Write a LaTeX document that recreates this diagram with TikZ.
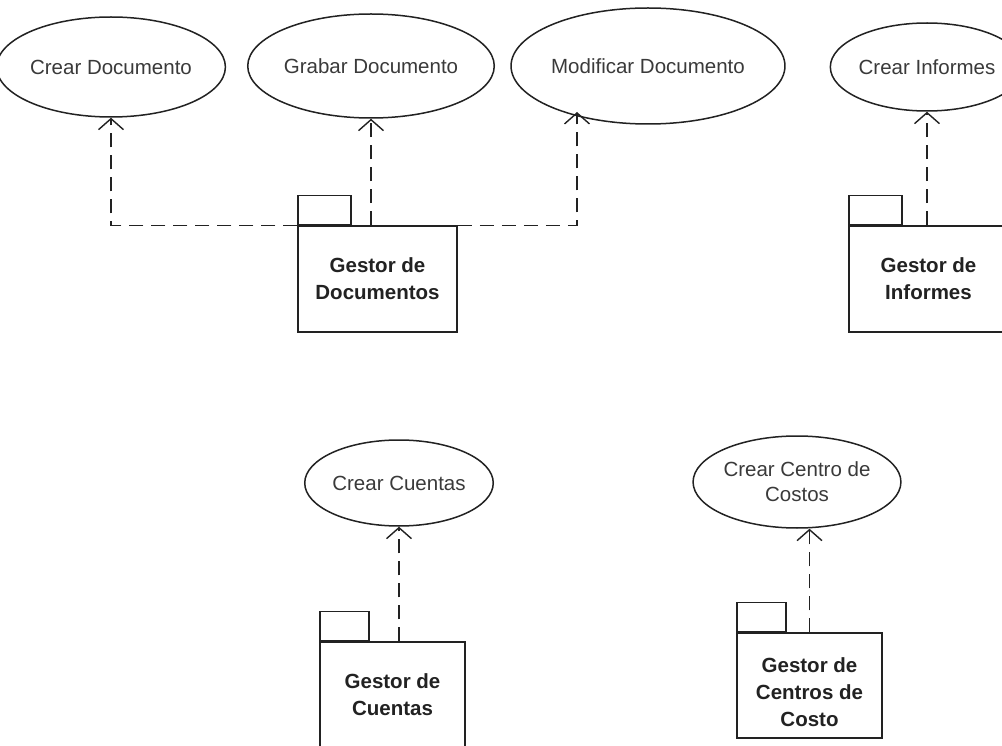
\documentclass[tikz,border=0pt]{standalone}
\usepackage{fontspec}
\setmainfont{Liberation Sans}
\usetikzlibrary{shapes.geometric,arrows.meta,calc}
\definecolor{ink}{HTML}{222222}
\definecolor{soft}{HTML}{3A3A3A}
\tikzset{
  usecase/.style={ellipse,draw=ink,line width=1.5pt,inner sep=0pt,
    text=soft,align=center,font=\fontsize{20.5}{25}\selectfont},
  pkg/.style={rectangle,draw=ink,line width=1.5pt,minimum width=159pt,
    minimum height=106pt,inner sep=0pt,text=ink,align=center,
    font=\fontsize{20.5}{27}\bfseries\selectfont},
  pkgtab/.style={rectangle,draw=ink,line width=1.5pt,minimum width=53pt,
    minimum height=29pt,inner sep=0pt,anchor=south west},
  dep/.style={draw=ink,line width=1.4pt,dash pattern=on 14pt off 8pt,
    -{Straight Barb[length=11pt,width=25pt,line width=1.4pt]}},
}
\begin{document}
\begin{tikzpicture}[x=1pt,y=-1pt]
  \useasboundingbox[fill=white] (0,0) rectangle (1002,746);

  % use cases
  \node[usecase,minimum width=200pt,minimum height=100pt] (cd) at (111,67) {Crear Documento};
  \node[usecase,minimum width=213pt,minimum height=104pt] (gd) at (371,66) {Grabar Documento};
  \node[usecase,minimum width=232pt,minimum height=116pt] (md) at (648,66) {Modificar Documento};
  \node[usecase,minimum width=174pt,minimum height=88pt] (ci) at (927,67) {Crear Informes};
  \node[usecase,minimum width=170pt,minimum height=86pt] (cc) at (399,483) {Crear Cuentas};
  \node[usecase,minimum width=185pt,minimum height=92pt] (cx) at (797,482) {Crear Centro de\\Costos};

  % packages: body plus tab
  \node[pkg] (pd) at (377.5,279) {Gestor de\\Documentos};
  \node[pkgtab] (pdtab) at (pd.north west) {};
  \node[pkg] (pi) at (928.5,279) {Gestor de\\Informes};
  \node[pkgtab] (pitab) at (pi.north west) {};
  \node[pkg,minimum width=145pt] (pc) at (392.5,695) {Gestor de\\Cuentas};
  \node[pkgtab,minimum width=49pt] (pctab) at (pc.north west) {};
  \node[pkg,minimum width=145pt,minimum height=105pt] (pk) at (809.5,685.5) {\rule{0pt}{28pt}Gestor de\\Centros de\\Costo};
  \node[pkgtab,minimum width=49pt] (pktab) at (pk.north west) {};

  % dependencies
  \coordinate (mdfoot) at ($(md.center)+(-71,46)$);
  \draw[dep] (pd.north west) -| (cd.south);
  \draw[dep] (pd.north -| gd.south) -- (gd.south);
  \draw[dep] (pd.north east) -| (mdfoot);
  \draw[dep] (pi.north -| ci.south) -- (ci.south);
  \draw[dep] (pc.north -| cc.south) -- (cc.south);
  \draw[dep] (pk.north) -- (pk.north |- cx.south);
\end{tikzpicture}
\end{document}
